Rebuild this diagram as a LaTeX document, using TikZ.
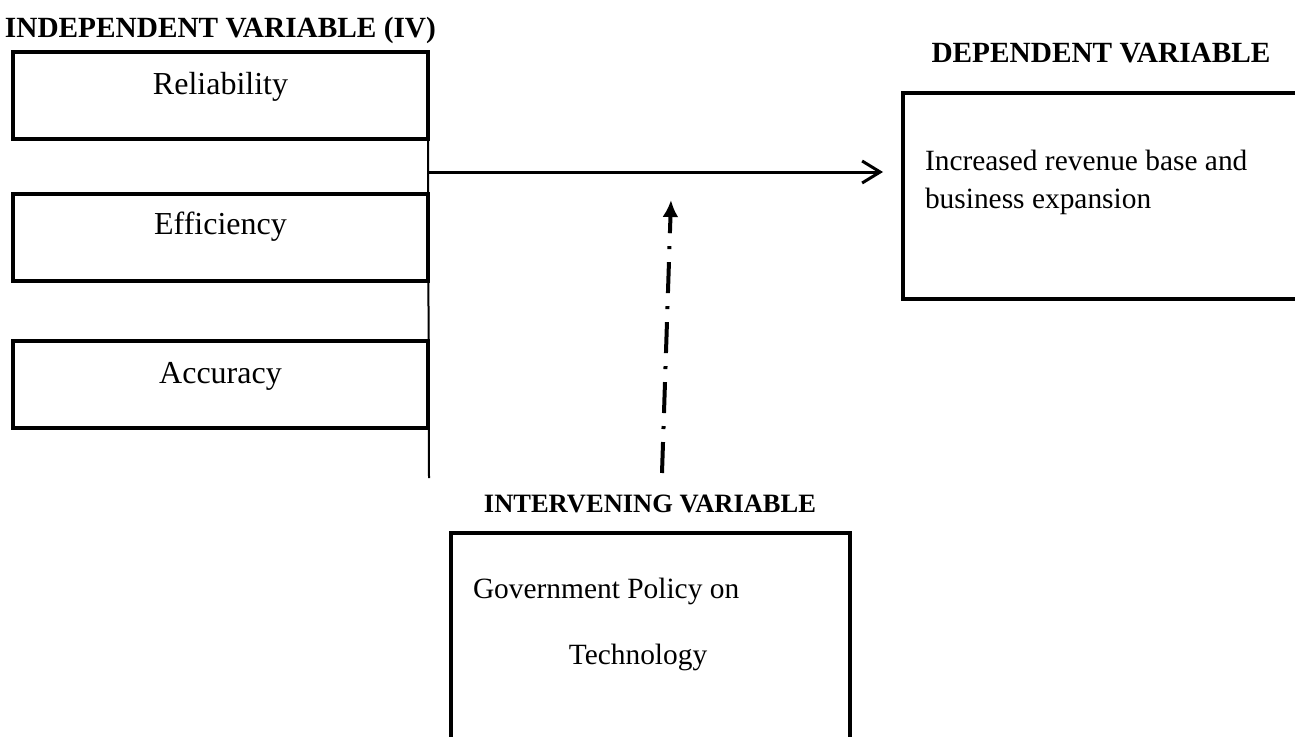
\documentclass[tikz,border=0pt]{standalone}
\usepackage{fontspec}
\setmainfont{Liberation Serif}
\usetikzlibrary{calc,arrows.meta}

\begin{document}
\begin{tikzpicture}[x=1pt,y=-1pt]
        \tikzstyle{every node}=[inner sep=0pt, outer sep=0pt]
        \tikzstyle{box}=[draw, rectangle, line width=4pt]
        \tikzstyle{ivbox}=[box, minimum width=415pt, minimum height=87pt]
        \tikzstyle{boxtext}=[font=\fontsize{32}{38}\selectfont, anchor=base]
        \tikzstyle{plain}=[font=\fontsize{29.4}{38}\selectfont]
        \tikzstyle{head}=[font=\fontsize{29.3}{35}\selectfont\bfseries, anchor=base]
        \useasboundingbox (0,0) rectangle (1295,736);
        \clip (0,0) rectangle (1295,736);

        \node[head, anchor=base west] (ivhead) at (5,37) {INDEPENDENT VARIABLE (IV)};
        \node[ivbox] (rel) at (220.5,95) {};
        \node[ivbox] (eff) at (220.5,237) {};
        \node[ivbox] (acc) at (220.5,384.5) {};
        \node[boxtext] (reltext) at ($(rel.north)+(0,43)$) {Reliability};
        \node[boxtext] (efftext) at ($(eff.north)+(0,41)$) {Efficiency};
        \node[boxtext] (acctext) at ($(acc.north)+(0,42)$) {Accuracy};

        \coordinate (split) at (429,172);
        \coordinate (ivend) at (429,478);
        \draw[line width=2pt] (rel.south east) to (ivend);

        \node[head] (dvhead) at (1101,62) {DEPENDENT VARIABLE};
        \node[box, minimum width=407pt, minimum height=206pt] (dep) at (1106.5,196) {};
        \node[plain, anchor=north west, align=left] (deptext) at (925,150)
                {Increased revenue base and\\business expansion};

        \draw[line width=3pt, -{Straight Barb[length=18pt,width=22pt]}, shorten >=20pt]
                (split) to (split -| dep.west);

        \node[head, font=\fontsize{26.5}{32}\selectfont\bfseries] (mvhead) at (650,512) {INTERVENING VARIABLE};
        \node[box, minimum width=399.5pt, minimum height=227pt] (mod) at (650.7,646.5) {};
        \node[plain, anchor=base west] (govtext) at (473,598) {Government Policy on};
        \node[plain, anchor=base] (techtext) at (638,664) {Technology};

        \coordinate (modfoot) at (662,473);
        \coordinate (modtip) at (671,200);
        \coordinate (modneck) at ($(modfoot)!0.879!(modtip)$);
        \draw[line width=4pt, dash pattern=on 31pt off 13pt on 3pt off 13pt] (modfoot) to (modneck);
        \draw[line width=4pt, -{Latex[length=17pt,width=16pt]}] (modneck) to (modtip);
\end{tikzpicture}
\end{document}
